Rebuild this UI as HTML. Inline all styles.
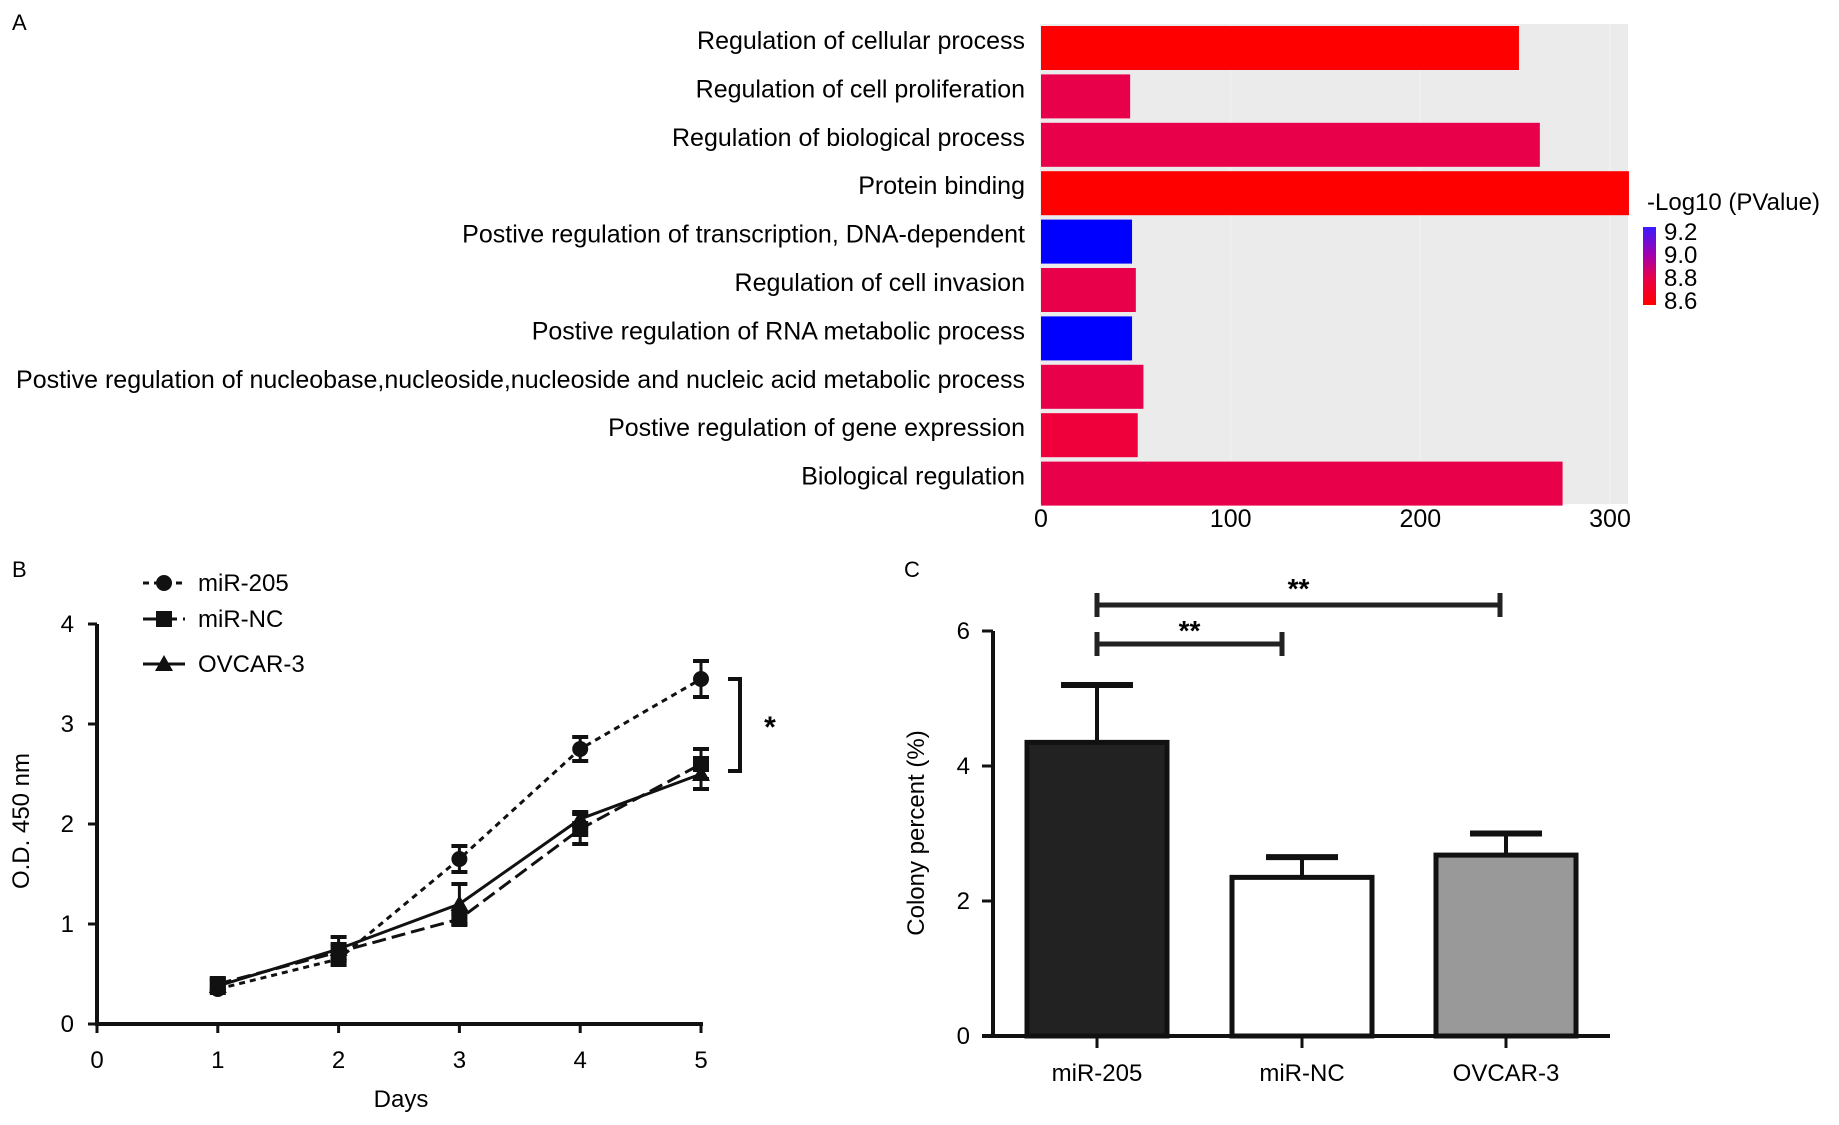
<!DOCTYPE html>
<html><head><meta charset="utf-8"><style>
body{margin:0;background:#fff;}
svg{display:block;font-family:"Liberation Sans",sans-serif;}
</style></head><body>
<svg id="fig" width="1839" height="1125" viewBox="0 0 1839 1125" xmlns="http://www.w3.org/2000/svg">
<text x="12" y="30" font-size="22">A</text>
<text x="12" y="577" font-size="22">B</text>
<text x="904" y="577" font-size="22">C</text>
<g id="pa"></g>
<g id="pb"></g>
<g id="pc"></g>
</svg>
<script>
// Panel A data
const goTerms = ["Regulation of cellular process","Regulation of cell proliferation","Regulation of biological process","Protein binding","Postive regulation of transcription, DNA-dependent","Regulation of cell invasion","Postive regulation of RNA metabolic process","Postive regulation of nucleobase,nucleoside,nucleoside and nucleic acid metabolic process","Postive regulation of gene expression","Biological regulation"];
const goCounts = [252,47,263,310,48,50,48,54,51,275];
const goLogP = [8.6,8.75,8.75,8.6,9.2,8.75,9.2,8.75,8.7,8.75];
const goTicks = [0,100,200,300];
const legendTicks = [9.2,9.0,8.8,8.6];
// Panel B data
const days = [1,2,3,4,5];
const mir205 = [0.35,0.65,1.65,2.75,3.45];
const mir205Err = [0.04,0.06,0.13,0.12,0.18];
const mirNC = [0.4,0.72,1.05,1.95,2.6];
const mirNCErr = [0.05,0.08,0.05,0.15,0.15];
const ovcar = [0.38,0.75,1.2,2.05,2.5];
const ovcarErr = [0.05,0.12,0.2,0.07,0.15];
const bXTicks = [0,1,2,3,4,5];
const bYTicks = [0,1,2,3,4];
// Panel C data
const cGroups = ["miR-205","miR-NC","OVCAR-3"];
const cValues = [4.35,2.35,2.68];
const cErrors = [0.85,0.3,0.32];
const cYTicks = [0,2,4,6];

const NS="http://www.w3.org/2000/svg";
function mk(parent,tag,attrs,text){const e=document.createElementNS(NS,tag);for(const k in attrs)e.setAttribute(k,attrs[k]);if(text!==undefined)e.textContent=text;parent.appendChild(e);return e;}

// ---- Panel A
const pa=document.getElementById('pa');
const ax=v=>1041+v*(1610-1041)/300;
const rowY=i=>26+i*48.4;
const bg=mk(pa,'rect',{x:1041,y:24,width:587,height:480,fill:'#ebebeb'});


goTicks.forEach(t=>{const l=mk(pa,'line',{x1:ax(t),x2:ax(t),y1:24,y2:504,stroke:'#efefef','stroke-width':2});


const tx=mk(pa,'text',{x:ax(t),y:527,'font-size':25,'text-anchor':'middle'},String(t));

});
function colorFor(v){if(v>=9.0)return '#0000ff';if(v<=8.62)return '#ff0000';if(v<8.73)return '#f0003a';return '#e8004a';}
goTerms.forEach((t,i)=>{const y=rowY(i);
const r=mk(pa,'rect',{x:ax(0),y:y,width:ax(goCounts[i])-ax(0),height:44,fill:colorFor(goLogP[i])});


const tx=mk(pa,'text',{x:1025,y:y+23,'font-size':25,'text-anchor':'end'},t);

});
const lt=mk(pa,'text',{x:1647,y:210,'font-size':24},'-Log10 (PValue)');


const defs=mk(pa,'defs',{});const gr=mk(defs,'linearGradient',{id:'cg',x1:0,y1:0,x2:0,y2:1});
mk(gr,'stop',{offset:'0','stop-color':'#3b1cff'});mk(gr,'stop',{offset:'0.35','stop-color':'#a000b0'});mk(gr,'stop',{offset:'0.65','stop-color':'#e8004a'});mk(gr,'stop',{offset:'1','stop-color':'#ff0000'});
const cb=mk(pa,'rect',{x:1643,y:227,width:13,height:78,fill:'url(#cg)'});


legendTicks.forEach((v,i)=>{const tx=mk(pa,'text',{x:1664,y:240+i*23,'font-size':24},v.toFixed(1));

});

// ---- Panel B
const pb=document.getElementById('pb');
const bx=v=>97+v*120.8, by=v=>1024-v*100;
mk(pb,'line',{x1:bx(0),x2:bx(0),y1:by(4),y2:by(0)+2,stroke:'#111','stroke-width':4});
mk(pb,'line',{x1:bx(0)-2,x2:bx(5)+2,y1:by(0),y2:by(0),stroke:'#111','stroke-width':4});
bYTicks.forEach(t=>{mk(pb,'line',{x1:bx(0)-9,x2:bx(0),y1:by(t),y2:by(t),stroke:'#111','stroke-width':3});
const tx=mk(pb,'text',{x:74,y:by(t)+8,'font-size':24,'text-anchor':'end'},String(t));

});
bXTicks.forEach(t=>{mk(pb,'line',{x1:bx(t),x2:bx(t),y1:by(0),y2:by(0)+9,stroke:'#111','stroke-width':3});
const tx=mk(pb,'text',{x:bx(t),y:1068,'font-size':24,'text-anchor':'middle'},String(t));

});
const xt=mk(pb,'text',{x:401,y:1107,'font-size':24,'text-anchor':'middle'},'Days');


const yt=mk(pb,'text',{x:0,y:0,'font-size':24,'text-anchor':'middle',transform:'translate(29,821) rotate(-90)'},'O.D. 450 nm');


const series=[{n:'mir-205',v:mir205,e:mir205Err,dash:'6,5',m:'circle'},{n:'mir-nc',v:mirNC,e:mirNCErr,dash:'14,6',m:'square'},{n:'ovcar-3',v:ovcar,e:ovcarErr,dash:'',m:'triangle'}];
function marker(g,type,x,y){if(type==='circle')mk(g,'circle',{cx:x,cy:y,r:8,fill:'#111'});else if(type==='square')mk(g,'rect',{x:x-8,y:y-8,width:16,height:16,fill:'#111'});else mk(g,'polygon',{points:(x)+','+(y-9)+' '+(x-9)+','+(y+7)+' '+(x+9)+','+(y+7),fill:'#111'});}
series.forEach(s=>{const g=mk(pb,'g',{});


mk(g,'polyline',{points:days.map((d,i)=>bx(d)+','+by(s.v[i])).join(' '),fill:'none',stroke:'#111','stroke-width':3,'stroke-dasharray':s.dash});
days.forEach((d,i)=>{const x=bx(d),y1=by(s.v[i]+s.e[i]),y2=by(s.v[i]-s.e[i]);
mk(g,'line',{x1:x,x2:x,y1:y1,y2:y2,stroke:'#111','stroke-width':3});
mk(g,'line',{x1:x-8,x2:x+8,y1:y1,y2:y1,stroke:'#111','stroke-width':4});
mk(g,'line',{x1:x-8,x2:x+8,y1:y2,y2:y2,stroke:'#111','stroke-width':4});
marker(g,s.m,x,by(s.v[i]));});});
const legY=[583,619,664], legTxt=['miR-205','miR-NC','OVCAR-3'];
series.forEach((s,i)=>{const g=mk(pb,'g',{});


mk(g,'line',{x1:143,x2:185,y1:legY[i],y2:legY[i],stroke:'#111','stroke-width':3,'stroke-dasharray':s.dash});
marker(g,s.m,164,legY[i]);
mk(g,'text',{x:198,y:legY[i]+8,'font-size':24},legTxt[i]);});
const br=mk(pb,'polyline',{points:'728,679 740,679 740,771 728,771',fill:'none',stroke:'#111','stroke-width':4});


const st=mk(pb,'text',{x:770,y:737,'font-size':30,'font-weight':'bold','text-anchor':'middle'},'*');



// ---- Panel C
const pc=document.getElementById('pc');
const cy=v=>1036-v*67.5;
const cCenters=[1097,1302,1506], cw=140, cFill=['#222','#fff','#999'];
mk(pc,'line',{x1:993,x2:993,y1:cy(6),y2:cy(0),stroke:'#111','stroke-width':4});
mk(pc,'line',{x1:982,x2:1610,y1:cy(0),y2:cy(0),stroke:'#111','stroke-width':4});
cYTicks.forEach(t=>{mk(pc,'line',{x1:982,x2:993,y1:cy(t),y2:cy(t),stroke:'#111','stroke-width':3});
const tx=mk(pc,'text',{x:970,y:cy(t)+8,'font-size':24,'text-anchor':'end'},String(t));

});
const cyt=mk(pc,'text',{x:0,y:0,'font-size':24,'text-anchor':'middle',transform:'translate(924,833) rotate(-90)'},'Colony percent (%)');


cGroups.forEach((gname,i)=>{const x=cCenters[i];const g=mk(pc,'g',{});


const top=cy(cValues[i]+cErrors[i]);
mk(g,'line',{x1:x,x2:x,y1:top,y2:cy(cValues[i]),stroke:'#111','stroke-width':4});
mk(g,'line',{x1:x-36,x2:x+36,y1:top,y2:top,stroke:'#111','stroke-width':6});
mk(g,'rect',{x:x-cw/2,y:cy(cValues[i]),width:cw,height:cy(0)-cy(cValues[i]),fill:cFill[i],stroke:'#111','stroke-width':5});
mk(g,'line',{x1:x,x2:x,y1:cy(0),y2:cy(0)+12,stroke:'#111','stroke-width':3});
mk(g,'text',{x:x,y:1081,'font-size':24,'text-anchor':'middle'},gname);});
function sig(x1,x2,y,ty,name){const g=mk(pc,'g',{});


mk(g,'line',{x1:x1,x2:x2,y1:y,y2:y,stroke:'#222','stroke-width':5});
mk(g,'line',{x1:x1,x2:x1,y1:y-12,y2:y+12,stroke:'#222','stroke-width':5});
mk(g,'line',{x1:x2,x2:x2,y1:y-12,y2:y+12,stroke:'#222','stroke-width':5});
mk(g,'text',{x:(x1+x2)/2,y:ty,'font-size':28,'font-weight':'bold','text-anchor':'middle'},'**');}
sig(1097,1282,644,640,'significance-mir205-vs-nc');
sig(1097,1500,605,598,'significance-mir205-vs-ovcar');
</script>
</body></html>
